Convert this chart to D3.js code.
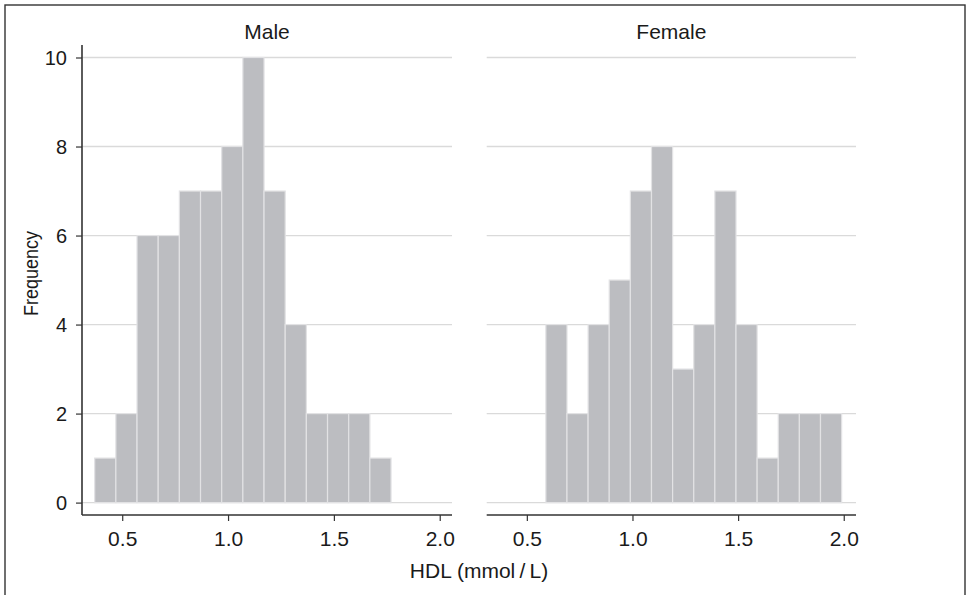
<!DOCTYPE html>
<html>
<head>
<meta charset="utf-8">
<script src="https://cdn.jsdelivr.net/npm/d3@7"></script>
<style>
  html, body { margin: 0; padding: 0; background: #fff; }
  svg text { font-family: "Liberation Sans", Arial, Helvetica, sans-serif; fill: #1a1a1a; }
</style>
</head>
<body>
<svg id="chart" width="966" height="595"></svg>
<script>
// ---- data ----
const panels = ["Male", "Female"];
const maleBinStarts = [0.37, 0.47, 0.57, 0.67, 0.77, 0.87, 0.97, 1.07, 1.17, 1.27, 1.37, 1.47, 1.57, 1.67];
const maleCounts    = [1, 2, 6, 6, 7, 7, 8, 10, 7, 4, 2, 2, 2, 1];
const femaleBinStarts = [0.59, 0.69, 0.79, 0.89, 0.99, 1.09, 1.19, 1.29, 1.39, 1.49, 1.59, 1.69, 1.79, 1.89];
const femaleCounts    = [4, 2, 4, 5, 7, 8, 3, 4, 7, 4, 1, 2, 2, 2];
const binWidth = 0.1;
const xTicks = [0.5, 1.0, 1.5, 2.0];
const yTicks = [0, 2, 4, 6, 8, 10];
const xTitle = "HDL (mmol\u2009/\u2009L)";
const yTitle = "Frequency";

// ---- layout ----
const svg = d3.select("#chart");
const FS = 21;

// frame
svg.append("rect").attr("x", 5).attr("y", 5).attr("width", 960).attr("height", 600)
  .attr("fill", "none").attr("stroke", "#333").attr("stroke-width", 1.4);

const y = d3.scaleLinear().domain([0, 10]).range([502.6, 57.5]);
const xDomain = [0.31, 2.058];
const panelRanges = [[82, 452], [486.7, 856]];
const dataSets = [
  { starts: maleBinStarts, counts: maleCounts },
  { starts: femaleBinStarts, counts: femaleCounts }
];

panels.forEach((name, i) => {
  const x = d3.scaleLinear().domain(xDomain).range(panelRanges[i]);
  const g = svg.append("g");
  const [x0, x1] = x.range();

  // gridlines
  g.selectAll("line.grid").data(yTicks).join("line")
    .attr("x1", x0).attr("x2", x1)
    .attr("y1", d => y(d)).attr("y2", d => y(d))
    .attr("stroke", "#dadada").attr("stroke-width", 1.3);

  // bars
  const bins = dataSets[i].starts.map((s, k) => ({ s, c: dataSets[i].counts[k] }));
  g.selectAll("rect.bar").data(bins).join("rect")
    .attr("x", d => x(d.s))
    .attr("width", d => x(d.s + binWidth) - x(d.s))
    .attr("y", d => y(d.c))
    .attr("height", d => y(0) - y(d.c))
    .attr("fill", "#bcbdc1")
    .attr("stroke", "#e2e2e4")
    .attr("stroke-width", 1.2);

  // x axis
  const axisY = 515;
  const xa = g.append("g").attr("transform", `translate(0,${axisY})`)
    .call(d3.axisBottom(x).tickValues(xTicks).tickFormat(d3.format(".1f")).tickSize(6).tickSizeOuter(0));
  xa.select(".domain").remove();
  xa.append("line").attr("x1", x0).attr("x2", x1).attr("y1", 0).attr("y2", 0)
    .attr("stroke", "#333").attr("stroke-width", 1.6);
  xa.selectAll(".tick line").attr("stroke", "#333").attr("stroke-width", 1.2);
  xa.selectAll(".tick text").attr("y", 16).attr("dy", "0.71em")
    .style("font-size", FS + "px").style("font-family", "Liberation Sans, Arial, sans-serif").attr("fill", "#1a1a1a");

  // y axis (male only)
  if (i === 0) {
    const ya = g.append("g").attr("transform", `translate(${x0},0)`)
      .call(d3.axisLeft(y).tickValues(yTicks).tickSize(6).tickSizeOuter(0));
    ya.select(".domain").remove();
    ya.append("line").attr("x1", 0).attr("x2", 0).attr("y1", 45).attr("y2", axisY)
      .attr("stroke", "#333").attr("stroke-width", 1.6);
    ya.selectAll(".tick line").attr("stroke", "#333").attr("stroke-width", 1.2);
    ya.selectAll(".tick text").attr("x", -15).attr("dy", "0.36em")
      .style("font-size", "20px").style("font-family", "Liberation Sans, Arial, sans-serif").attr("fill", "#1a1a1a");
  }

  // panel title
  g.append("text").attr("x", (x0 + x1) / 2).attr("y", 39)
    .attr("text-anchor", "middle").style("font-size", FS + "px").text(name);
});

// axis titles
svg.append("text").attr("x", 479).attr("y", 578).attr("text-anchor", "middle")
  .style("font-size", FS + "px").text(xTitle);
svg.append("text").attr("transform", "translate(38,273.5) rotate(-90)")
  .attr("text-anchor", "middle").style("font-size", "20px")
  .attr("textLength", 85).attr("lengthAdjust", "spacingAndGlyphs").text(yTitle);
</script>
</body>
</html>
